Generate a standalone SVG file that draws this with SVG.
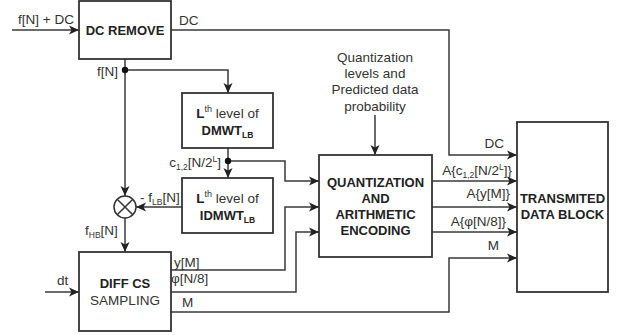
<svg xmlns="http://www.w3.org/2000/svg" width="618" height="335" viewBox="0 0 618 335">
<defs>
<marker id="ah" markerUnits="userSpaceOnUse" markerWidth="10" markerHeight="10" viewBox="0 0 10 10" refX="10" refY="5" orient="auto">
<path d="M0,0.5 L10,5 L0,9.5 L2.5,5 z" fill="#222"/>
</marker>
<style>
.box{fill:#fff;stroke:#333;stroke-width:1.8}
.ln{fill:none;stroke:#3a3a3a;stroke-width:1.5}
.lbl{font-family:"Liberation Sans",Arial,sans-serif;font-size:13.5px;fill:#333}
.bt{font-family:"Liberation Sans",Arial,sans-serif;font-size:13px;font-weight:bold;fill:#222;text-anchor:middle}
.rt{font-family:"Liberation Sans",Arial,sans-serif;font-size:13.5px;fill:#333;text-anchor:middle}
.sub{font-size:8.5px}
.dot{fill:#111}
</style>
</defs>
<rect width="618" height="335" fill="#fff"/>

<g id="connectors">
<path class="ln" d="M12,30 H79" marker-end="url(#ah)"/>
<path class="ln" d="M171,30 H449 V155 H517" marker-end="url(#ah)"/>
<path class="ln" d="M125,59 V196" marker-end="url(#ah)"/>
<path class="ln" d="M125,70 H228 V93" marker-end="url(#ah)"/>
<path class="ln" d="M228,148 V178" marker-end="url(#ah)"/>
<path class="ln" d="M228,161 H285 V181 H319" marker-end="url(#ah)"/>
<path class="ln" d="M182,207 H136" marker-end="url(#ah)"/>
<path class="ln" d="M125,218 V252" marker-end="url(#ah)"/>
<path class="ln" d="M45,292 H79" marker-end="url(#ah)"/>
<path class="ln" d="M171,270 H285 V207 H319" marker-end="url(#ah)"/>
<path class="ln" d="M171,292 H296 V232 H319" marker-end="url(#ah)"/>
<path class="ln" d="M171,312 H449 V258 H517" marker-end="url(#ah)"/>
<path class="ln" d="M375,115 V155" marker-end="url(#ah)"/>
<path class="ln" d="M432,181 H517" marker-end="url(#ah)"/>
<path class="ln" d="M432,207 H517" marker-end="url(#ah)"/>
<path class="ln" d="M432,232 H517" marker-end="url(#ah)"/>
<circle class="dot" cx="125" cy="70" r="3.2"/>
<circle class="dot" cx="228" cy="161" r="3.2"/>
<text class="lbl" x="18" y="24">f[N] + DC</text>
<text class="lbl" x="179" y="25">DC</text>
<text class="lbl" x="118" y="76" text-anchor="end">f[N]</text>
<text class="lbl" x="221" y="167" text-anchor="end">c<tspan class="sub" dy="3">1,2</tspan><tspan dy="-3">[N/2</tspan><tspan class="sub" dy="-5">L</tspan><tspan dy="5">]</tspan></text>
<text class="lbl" x="140" y="202">- f<tspan class="sub" dy="3">LB</tspan><tspan dy="-3">[N]</tspan></text>
<text class="lbl" x="85" y="235">f<tspan class="sub" dy="3">HB</tspan><tspan dy="-3">[N]</tspan></text>
<text class="lbl" x="57" y="285">dt</text>
<text class="lbl" x="174" y="267">y[M]</text>
<text class="lbl" x="171" y="283">φ[N/8]</text>
<text class="lbl" x="182" y="307">M</text>
<text class="lbl" x="504" y="148" text-anchor="end">DC</text>
<text class="lbl" x="512" y="175" text-anchor="end">A{c<tspan class="sub" dy="3">1,2</tspan><tspan dy="-3">[N/2</tspan><tspan class="sub" dy="-5">L</tspan><tspan dy="5">]}</tspan></text>
<text class="lbl" x="510" y="198" text-anchor="end">A{y[M]}</text>
<text class="lbl" x="506" y="226" text-anchor="end">A{φ[N/8]}</text>
<text class="lbl" x="499" y="250" text-anchor="end">M</text>
</g>

<g id="dc-remove">
<rect class="box" x="79" y="1" width="92" height="58"/>
<text class="bt" x="125" y="35">DC REMOVE</text>
</g>

<g id="dmwt">
<rect class="box" x="182" y="93" width="91" height="55"/>
<text class="rt" x="227.5" y="118"><tspan font-weight="bold" fill="#222">L</tspan><tspan font-size="9" dy="-6">th</tspan><tspan dy="6"> level of</tspan></text>
<text class="bt" x="227.5" y="135">DMWT<tspan class="sub" dy="3">LB</tspan></text>
</g>

<g id="idmwt">
<rect class="box" x="182" y="178" width="91" height="55"/>
<text class="rt" x="227.5" y="203"><tspan font-weight="bold" fill="#222">L</tspan><tspan font-size="9" dy="-6">th</tspan><tspan dy="6"> level of</tspan></text>
<text class="bt" x="227.5" y="220">IDMWT<tspan class="sub" dy="3">LB</tspan></text>
</g>

<g id="mixer">
<circle cx="125" cy="207" r="11" fill="#fff" stroke="#333" stroke-width="1.5"/>
<path d="M117.2,199.2 L132.8,214.8 M132.8,199.2 L117.2,214.8" stroke="#333" stroke-width="1.5"/>
</g>

<g id="info">
<text class="rt" x="375" y="62">Quantization</text>
<text class="rt" x="375" y="78">levels and</text>
<text class="rt" x="375" y="94">Predicted data</text>
<text class="rt" x="375" y="111">probability</text>
</g>

<g id="qae">
<rect class="box" x="319" y="155" width="113" height="102"/>
<text class="bt" x="375.5" y="187">QUANTIZATION</text>
<text class="bt" x="375.5" y="203">AND</text>
<text class="bt" x="375.5" y="219">ARITHMETIC</text>
<text class="bt" x="375.5" y="235">ENCODING</text>
</g>

<g id="diff-cs">
<rect class="box" x="79" y="252" width="92" height="79"/>
<text class="bt" x="125" y="288">DIFF CS</text>
<text class="rt" x="125" y="305">SAMPLING</text>
</g>

<g id="tdb">
<rect class="box" x="517" y="122" width="91" height="170"/>
<text class="bt" x="562.5" y="203">TRANSMITED</text>
<text class="bt" x="562.5" y="219">DATA BLOCK</text>
</g>
</svg>
